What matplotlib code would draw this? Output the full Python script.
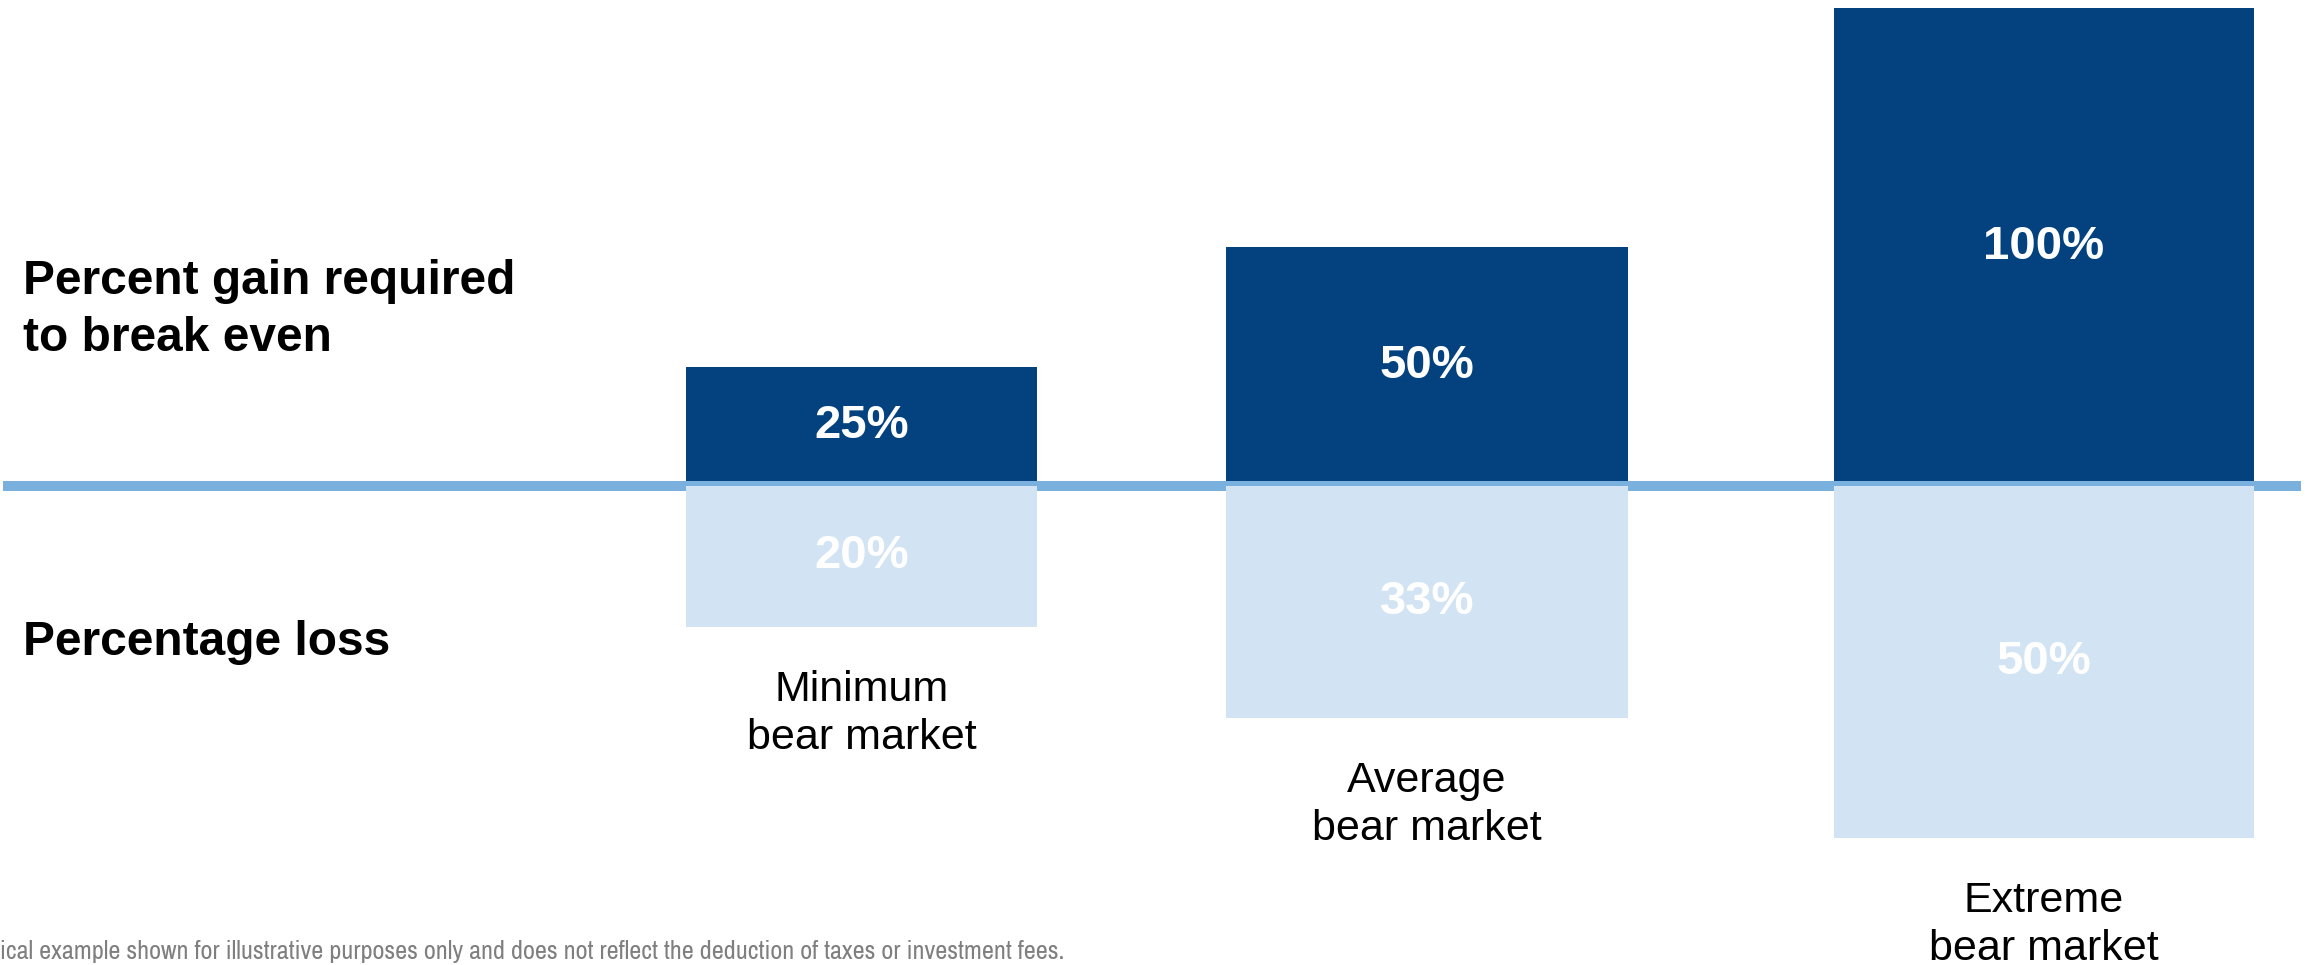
import matplotlib
matplotlib.use("Agg")
import matplotlib.pyplot as plt
from matplotlib import font_manager

plt.rcParams["font.family"] = ["Liberation Sans", "DejaVu Sans"]

categories = ["Minimum\nbear market", "Average\nbear market", "Extreme\nbear market"]
gain_needed = [25, 50, 100]   # percent gain required to break even
loss = [20, 33, 50]           # percentage loss

# layout (pixel units along x, 2316 px wide canvas)
centers = [861.5, 1427, 2044]
widths = [351, 402, 420]

dark = "#03427f"
light = "#d2e4f3"
rule = "#79b0de"

W, H = 2316, 965
base_px = 486  # baseline position from the top
fig = plt.figure(figsize=(W / 100, H / 100), dpi=100)

top = fig.add_axes([0, (H - base_px) / H, 1, base_px / H])
bot = fig.add_axes([0, 0, 1, (H - base_px) / H])
for ax in (top, bot):
    ax.set_xlim(0, W)
    ax.axis("off")
top.set_ylim(0, base_px / 4.78)
bot.set_ylim((H - base_px) / 7.04, 0)

top.bar(centers, gain_needed, width=widths, color=dark, linewidth=0)
bot.bar(centers, loss, width=widths, color=light, linewidth=0)

for x, g in zip(centers, gain_needed):
    top.text(x, g / 2, f"{g}%", ha="center", va="center", color="white",
             fontsize=34, fontweight="bold")
for x, l, name in zip(centers, loss, categories):
    bot.text(x, l / 2, f"{l}%", ha="center", va="center", color="white",
             fontsize=34, fontweight="bold")
    bot.annotate(name, (x, l), xytext=(0, -31), textcoords="offset points",
                 ha="center", va="top", fontsize=31, linespacing=1.25)

# horizontal rule at zero
top.plot([3, 2301], [0, 0], color=rule, linewidth=7.2, solid_capstyle="butt",
         clip_on=False, zorder=5)

# va="baseline" on multi-line text anchors the last line
fig.text(23 / W, (H - 351) / H, "Percent gain required\nto break even",
         ha="left", va="baseline", fontsize=34.5, fontweight="bold", linespacing=1.345)
fig.text(23 / W, (H - 655) / H, "Percentage loss",
         ha="left", va="baseline", fontsize=34.5, fontweight="bold")

narrow = [f.name for f in font_manager.fontManager.ttflist if "Narrow" in f.name]
note = ("Hypothetical example shown for illustrative purposes only and does not "
        "reflect the deduction of taxes or investment fees.")
if narrow:
    fig.text(1064 / W, (H - 959) / H, note, ha="right", va="baseline",
             fontsize=18.85, color="#7f7f7f", family=narrow[0])
else:
    fig.text(1064 / W, (H - 959) / H, note, ha="right", va="baseline",
             fontsize=15.5, color="#7f7f7f")

fig.savefig("out.png", dpi=100)
